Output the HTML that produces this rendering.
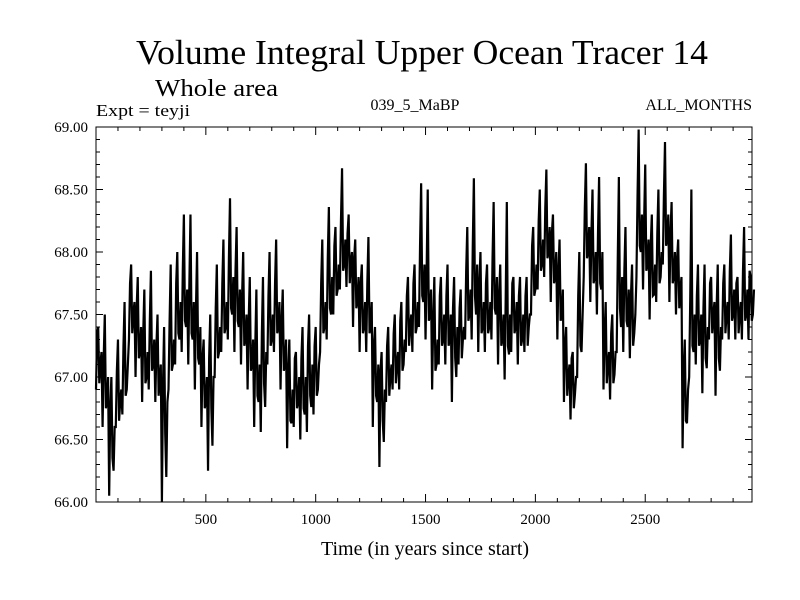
<!DOCTYPE html>
<html><head><meta charset="utf-8"><style>
body{margin:0;background:#fff}
svg{display:block;font-family:"Liberation Serif",serif}
</style></head><body>
<svg id="chart" width="800" height="600" viewBox="0 0 800 600">
<rect width="800" height="600" fill="#fff"/>
<text x="422" y="64" font-size="35" text-anchor="middle" textLength="572" lengthAdjust="spacingAndGlyphs">Volume Integral Upper Ocean Tracer 14</text>
<text x="155" y="96" font-size="24" textLength="123" lengthAdjust="spacingAndGlyphs">Whole area</text>
<text x="96" y="116" font-size="17" textLength="94" lengthAdjust="spacingAndGlyphs">Expt = teyji</text>
<text x="415" y="110" font-size="16" text-anchor="middle">039_5_MaBP</text>
<text x="752" y="110" font-size="16" text-anchor="end">ALL_MONTHS</text>
<text x="425" y="555" font-size="20" text-anchor="middle">Time (in years since start)</text>
<g id="axes"></g>
<g id="series"></g>
</svg>
<script>
const startYear = 0;
const stepYears = 5;
const values = [
66.9,67.35,67.4,66.95,67.1,67.2, 66.6,67.15,67.5,66.75,66.8,67.0, 66.05,66.75,67.0,66.35,66.25,66.6, 66.6,67.05,67.3,66.65,66.8,66.9, 66.7,67.25,67.6,66.85,66.9,67.1,
67.3,67.75,67.9,67.35,67.5,67.6, 67.0,67.55,67.8,67.15,67.2,67.4, 66.8,67.35,67.7,66.95,67.0,67.2, 66.9,67.45,67.85,67.05,67.1,67.3, 66.8,67.25,67.5,66.85,67.0,67.1,
66.0,66.95,67.4,66.55,66.2,66.8, 66.9,67.45,67.9,67.05,67.1,67.3, 67.1,67.75,68.0,67.35,67.3,67.6, 67.2,67.85,68.3,67.45,67.4,67.7, 67.1,67.75,68.3,67.35,67.3,67.6,
66.9,67.55,68.0,67.15,67.1,67.4, 66.6,67.15,67.3,66.75,66.8,67.0, 66.25,67.15,67.5,66.75,66.45,67.0, 67.0,67.55,67.9,67.15,67.2,67.4, 67.2,67.75,68.1,67.35,67.4,67.6,
67.3,67.95,68.43,67.55,67.5,67.8, 67.2,67.85,68.2,67.45,67.4,67.7, 67.1,67.65,68.0,67.25,67.3,67.5, 66.9,67.45,67.8,67.05,67.1,67.3, 66.6,67.25,67.7,66.85,66.8,67.1,
66.56,67.35,67.8,66.95,66.76,67.2, 67.1,67.65,68.0,67.25,67.3,67.5, 67.2,67.75,68.1,67.35,67.4,67.6, 66.9,67.45,67.7,67.05,67.1,67.3, 66.43,67.05,67.3,66.65,66.63,66.9,
66.6,67.15,67.2,66.75,66.8,67.0, 66.5,67.15,67.4,66.75,66.7,67.0, 66.56,67.25,67.5,66.85,66.76,67.1, 66.7,67.25,67.4,66.85,66.9,67.1, 67.2,67.75,68.1,67.35,67.4,67.6,
67.3,67.95,68.36,67.55,67.5,67.8, 67.5,68.05,68.2,67.65,67.7,67.9, 67.7,68.25,68.67,67.85,67.9,68.1, 67.72,68.15,68.3,67.75,67.92,68.0, 67.4,67.95,68.1,67.55,67.6,67.8,
67.2,67.75,67.9,67.35,67.4,67.6, 67.2,67.75,68.12,67.35,67.4,67.6, 66.6,67.25,67.4,66.85,66.8,67.1, 66.28,67.05,67.2,66.65,66.48,66.9, 66.8,67.25,67.4,66.85,67.0,67.1,
66.9,67.35,67.5,66.95,67.1,67.2, 66.9,67.45,67.6,67.05,67.1,67.3, 67.2,67.65,67.8,67.25,67.4,67.5, 67.2,67.75,67.9,67.35,67.4,67.6, 67.4,68.05,68.55,67.65,67.6,67.9,
67.3,67.85,68.5,67.45,67.5,67.7, 66.9,67.45,67.8,67.05,67.1,67.3, 67.1,67.65,67.8,67.25,67.3,67.5, 67.1,67.65,67.9,67.25,67.3,67.5, 66.8,67.55,67.8,67.15,67.0,67.4,
67.1,67.55,67.7,67.15,67.3,67.4, 67.3,67.85,68.2,67.45,67.5,67.7, 67.3,68.05,68.59,67.65,67.5,67.9, 67.2,67.75,68.0,67.35,67.4,67.6, 67.2,67.75,67.9,67.35,67.4,67.6,
67.3,67.95,68.4,67.55,67.5,67.8, 67.1,67.65,67.9,67.25,67.3,67.5, 66.98,67.65,68.4,67.25,67.18,67.5, 67.2,67.75,67.8,67.35,67.4,67.6, 67.1,67.65,67.8,67.25,67.3,67.5,
67.2,67.65,67.8,67.25,67.4,67.5, 67.5,68.05,68.2,67.65,67.7,67.9, 67.7,68.25,68.5,67.85,67.9,68.1, 67.8,68.35,68.66,67.95,68.0,68.2, 67.6,68.15,68.3,67.75,67.8,68.0,
67.3,67.85,68.1,67.45,67.5,67.7, 66.8,67.25,67.4,66.85,67.0,67.1, 66.66,67.15,67.2,66.75,66.86,67.0, 67.0,67.65,68.0,67.25,67.2,67.5, 67.8,68.35,68.71,67.95,68.0,68.2,
67.6,68.15,68.5,67.75,67.8,68.0, 67.5,68.15,68.6,67.75,67.7,68.0, 66.9,67.35,67.6,66.95,67.1,67.2, 66.82,67.35,67.5,66.95,67.02,67.2, 67.2,67.95,68.6,67.55,67.4,67.8,
67.2,67.85,68.2,67.45,67.4,67.7, 67.15,67.65,67.9,67.25,67.35,67.5, 67.8,68.45,68.98,68.05,68.0,68.3, 67.7,68.25,68.7,67.85,67.9,68.1, 67.46,68.05,68.3,67.65,67.66,67.9,
67.6,68.15,68.5,67.75,67.8,68.0, 67.9,68.45,68.88,68.05,68.1,68.3, 67.6,68.15,68.4,67.75,67.8,68.0, 67.5,67.95,68.1,67.55,67.7,67.8, 66.43,67.05,67.3,66.65,66.63,66.9,
67.0,67.65,68.5,67.25,67.2,67.5, 67.1,67.65,67.9,67.25,67.3,67.5, 66.87,67.55,67.9,67.15,67.07,67.4, 67.3,67.75,67.8,67.35,67.5,67.6, 66.85,67.55,67.9,67.15,67.05,67.4,
67.3,67.75,67.9,67.35,67.5,67.6, 67.3,67.85,68.14,67.45,67.5,67.7, 67.3,67.75,67.8,67.35,67.5,67.6, 67.3,67.85,68.2,67.45,67.5,67.7, 67.3,67.85,67.8,67.45,67.5,67.7
];
const yTickLabels = ["66.00","66.50","67.00","67.50","68.00","68.50","69.00"];
const xTickLabels = ["500","1000","1500","2000","2500"];

const L=96, R=752, T=127, B=502;
const X0=0, X1=2986, Y0=66, Y1=69;
const xs = v => L + (v - X0) / (X1 - X0) * (R - L);
const ys = v => B - (v - Y0) / (Y1 - Y0) * (B - T);
const NS="http://www.w3.org/2000/svg";
const axes=document.getElementById('axes');
const series=document.getElementById('series');
function mk(tag, attrs, parent){const e=document.createElementNS(NS,tag);for(const k in attrs)e.setAttribute(k,attrs[k]);parent.appendChild(e);return e;}

const frame=mk('rect',{x:L,y:T,width:R-L,height:B-T,fill:'none',stroke:'#000','stroke-width':1},axes);



for(let k=0;k<=30;k++){
  const v=Y0+k*0.1, y=ys(v), major=k%5===0, len=major?7:4;
  const t1=mk('line',{x1:L,x2:L+len,y1:y,y2:y,stroke:'#000','stroke-width':1},axes);
  
  
  const t2=mk('line',{x1:R,x2:R-len,y1:y,y2:y,stroke:'#000','stroke-width':1},axes);
  
  
}
yTickLabels.forEach(s=>{
  const t=mk('text',{x:L-8,y:ys(parseFloat(s))+5,'font-size':15,'text-anchor':'end'},axes);
  t.textContent=s;
  
  
});
for(let v=100;v<X1;v+=100){
  const x=xs(v), major=v%500===0, len=major?8:4;
  const t1=mk('line',{x1:x,x2:x,y1:B,y2:B-len,stroke:'#000','stroke-width':1},axes);
  
  
  const t2=mk('line',{x1:x,x2:x,y1:T,y2:T+len,stroke:'#000','stroke-width':1},axes);
  
  
}
xTickLabels.forEach(s=>{
  const t=mk('text',{x:xs(parseFloat(s)),y:B+22,'font-size':15,'text-anchor':'middle'},axes);
  t.textContent=s;
  
  
});
const pts=values.map((v,i)=>xs(startYear+i*stepYears).toFixed(2)+','+ys(v).toFixed(2)).join(' ');
const line=mk('polyline',{points:pts,fill:'none',stroke:'#000','stroke-width':2.2,'stroke-linejoin':'miter','stroke-miterlimit':3},series);


</script>
</body></html>
